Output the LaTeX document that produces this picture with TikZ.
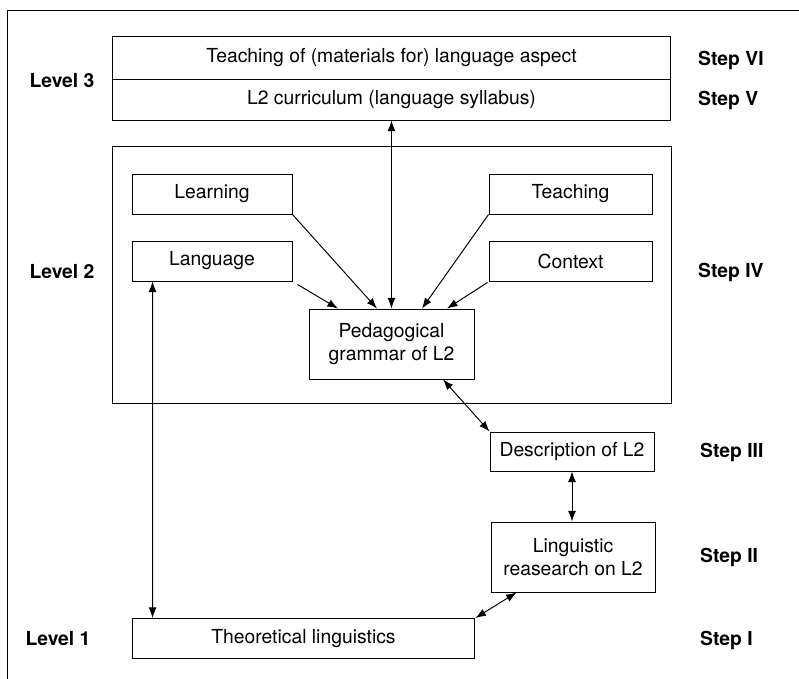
\documentclass[tikz,border=0pt]{standalone}
\usepackage{fontspec}
\setmainfont{TeX Gyre Heros}
\usetikzlibrary{calc,positioning,arrows.meta}

\begin{document}
\begin{tikzpicture}[
    x=0.02cm, y=-0.02cm,
    box/.style={rectangle, draw, line width=0.55pt, inner sep=2pt, align=center, font=\fontsize{11}{13.5}\selectfont},
    level/.style={font=\bfseries\fontsize{11}{13}\selectfont},
    steplabel/.style={anchor=west, font=\bfseries\fontsize{11}{13}\selectfont},
    arrow/.style={-{Latex[length=6pt,width=4.5pt]}, line width=0.55pt},
    twoway/.style={{Latex[length=6pt,width=4.5pt]}-{Latex[length=6pt,width=4.5pt]}, line width=0.55pt}
]
    \useasboundingbox (0,0) rectangle (799,679);
    \draw[line width=0.55pt] (7,679) -- (7,10) -- (799,10);

    % level 3
    \node[box, minimum width=11.18cm, minimum height=0.86cm] (teach) at (391.5,57.5) {Teaching of (materials for) language aspect};
    \node[box, minimum width=11.18cm, minimum height=0.82cm] (curr) at (391.5,99.5) {L2 curriculum (language syllabus)};

    % level 2
    \node[box, minimum width=11.2cm, minimum height=5.16cm] (frame) at (392,275) {};
    \node[box, minimum width=3.2cm, minimum height=0.8cm] (learning) at (212,194) {Learning};
    \node[box, minimum width=3.2cm, minimum height=0.8cm] (language) at (212,261) {Language};
    \node[box, minimum width=3.26cm, minimum height=0.8cm] (teaching) at (570.5,194) {Teaching};
    \node[box, minimum width=3.26cm, minimum height=0.8cm] (context) at (570.5,261) {Context};
    \node[box, minimum width=3.3cm, minimum height=1.4cm] (ped) at (391.5,344) {Pedagogical\\grammar of L2};

    % steps below
    \node[box, minimum width=3.28cm, minimum height=0.78cm] (desc) at (572,451.5) {Description of L2};
    \node[box, minimum width=3.28cm, minimum height=1.4cm] (ling) at (573,557) {Linguistic\\reasearch on L2};
    \node[box, minimum width=6.86cm, minimum height=0.8cm] (theo) at (303.5,638.5) {Theoretical linguistics};

    \node[level] (lev3) at (62,81) {Level 3};
    \node[level] (lev2) at (62,272) {Level 2};
    \node[level] (lev1) at (58,639) {Level 1};

    \node[steplabel] (s6) at (692,60) {Step VI};
    \node[steplabel] (s5) at (692,100) {Step V};
    \node[steplabel] (s4) at (692,272) {Step IV};
    \node[steplabel] (s3) at (694,452) {Step III};
    \node[steplabel] (s2) at (694,557) {Step II};
    \node[steplabel] (s1) at (694,640) {Step I};

    \draw[twoway] (curr.south) -- (ped.north);
    \draw[arrow] (learning.south east) -- ($(ped.north)+(-14.5,0)$);
    \draw[arrow] ($(language.south east)+(5,3)$) -- ($(ped.north)+(-53.5,0)$);
    \draw[arrow] (teaching.south west) -- ($(ped.north)+(30.5,0)$);
    \draw[arrow] ($(context.south west)+(-1,1)$) -- ($(ped.north)+(55.5,0)$);
    \draw[twoway] ($(ped.south)+(51.5,0)$) -- (desc.north west);
    \draw[twoway] (desc.south) -- (desc.south |- ling.north);
    \draw[twoway] (theo.north east) -- ($(ling.south west)+(26,0)$);
    \draw[twoway] ($(language.south west)+(21,0)$) -- ($(theo.north west)+(21,0)$);
\end{tikzpicture}
\end{document}
